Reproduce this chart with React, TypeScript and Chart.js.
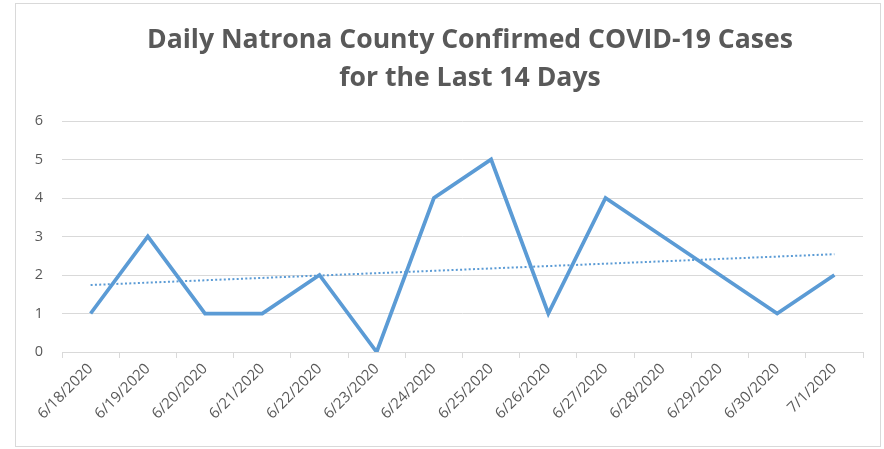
import React, { useEffect, useRef } from "react";
import { Chart, registerables } from "chart.js";

Chart.register(...registerables);

const categories = [
  "6/18/2020", "6/19/2020", "6/20/2020", "6/21/2020", "6/22/2020", "6/23/2020", "6/24/2020",
  "6/25/2020", "6/26/2020", "6/27/2020", "6/28/2020", "6/29/2020", "6/30/2020", "7/1/2020",
];
const dailyCases = [1, 3, 1, 1, 2, 0, 4, 5, 1, 4, 3, 2, 1, 2];
// Linear trendline endpoints (first and last day)
const trendStart = 1.74;
const trendEnd = 2.54;
const titleLines = ["Daily Natrona County Confirmed COVID-19 Cases", "for the Last 14 Days"];

const GRAY = "#595959";
const GRID = "#d9d9d9";
const BLUE = "#5b9bd5";

export default function App() {
  const ref = useRef<HTMLCanvasElement | null>(null);

  useEffect(() => {
    if (!ref.current) return;
    const trend = categories.map((_, i) =>
      i === 0 ? trendStart : i === categories.length - 1 ? trendEnd : null
    );

    const framePlugin = {
      id: "frame",
      beforeDraw(chart: any) {
        const ctx = chart.ctx;
        ctx.save();
        ctx.fillStyle = "#ffffff";
        ctx.fillRect(0, 0, chart.width, chart.height);
        ctx.strokeStyle = GRID;
        ctx.lineWidth = 1;
        ctx.strokeRect(15.5, 3.5, 865, 443);
        ctx.fillStyle = GRAY;
        ctx.font = "bold 26.6px 'Open Sans', sans-serif";
        ctx.textAlign = "center";
        ctx.textBaseline = "middle";
        ctx.fillText(titleLines[0], 470, 40);
        ctx.fillText(titleLines[1], 470, 78);
        ctx.restore();
      },
    };

    const chart = new Chart(ref.current, {
      type: "line",
      data: {
        labels: categories,
        datasets: [
          {
            data: dailyCases,
            borderColor: BLUE,
            borderWidth: 3.75,
            pointRadius: 0,
            tension: 0,
            fill: false,
            borderJoinStyle: "miter",
          },
          {
            data: trend,
            borderColor: BLUE,
            borderWidth: 2,
            borderDash: [2, 2.3],
            pointRadius: 0,
            spanGaps: true,
            fill: false,
          },
        ],
      },
      options: {
        animation: false,
        responsive: false,
        devicePixelRatio: 1,
        layout: { padding: { top: 121, left: 15, right: 21, bottom: 3 } },
        plugins: {
          legend: { display: false },
          title: { display: false },
          tooltip: { enabled: false },
        },
        scales: {
          x: {
            type: "category",
            offset: true,
            grid: {
              display: true,
              offset: true,
              drawOnChartArea: false,
              drawTicks: true,
              tickLength: 6,
              color: GRID,
            },
            border: { display: true, color: GRID, width: 1 },
            ticks: {
              color: GRAY,
              font: { family: "'Open Sans', sans-serif", size: 15 },
              minRotation: 45,
              maxRotation: 45,
              autoSkip: false,
              padding: 2,
            },
            afterFit(scale: any) {
              scale.height = 94;
            },
          },
          y: {
            min: 0,
            max: 6,
            ticks: {
              stepSize: 1,
              color: GRAY,
              font: { family: "'Open Sans', sans-serif", size: 14.5 },
              padding: 19,
            },
            grid: { color: GRID, drawTicks: false, lineWidth: 1 },
            border: { display: false },
            afterFit(scale: any) {
              scale.width = 47;
            },
          },
        },
      },
      plugins: [framePlugin],
    } as any);

    return () => chart.destroy();
  }, []);

  return (
    <div style={{ position: "absolute", left: 0, top: 0, width: 884, height: 449 }}>
      <canvas ref={ref} width={884} height={449} style={{ display: "block" }} />
    </div>
  );
}
